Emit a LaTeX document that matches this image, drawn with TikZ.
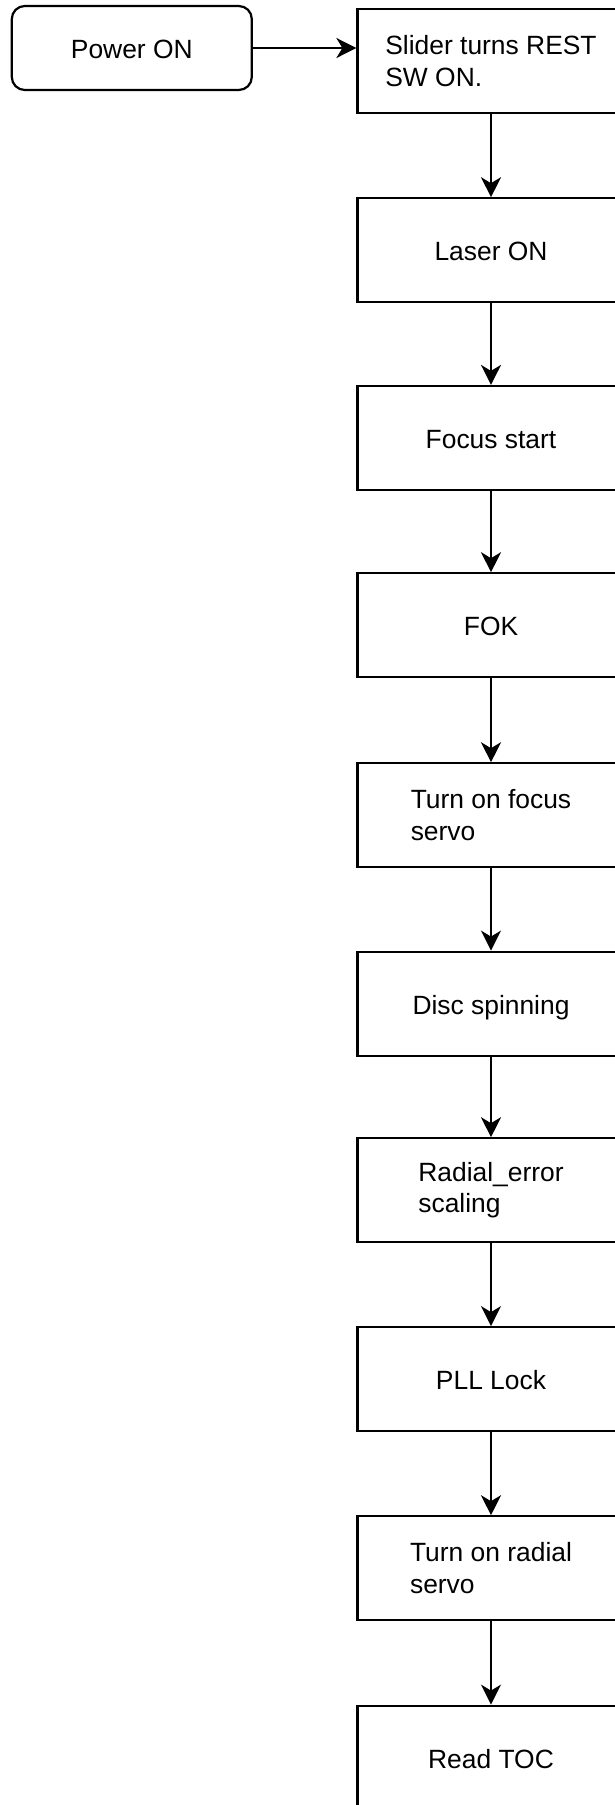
\documentclass[tikz,border=0pt]{standalone}
\usepackage{fontspec}
\setmainfont{Liberation Sans}
\usetikzlibrary{arrows.meta}
\begin{document}
\begin{tikzpicture}[x=1pt,y=-1pt,
  every node/.style={font=\fontsize{26.4}{31.7}\selectfont, inner sep=0pt},
  oneline/.style={text height=21pt, text depth=0pt},
  stepbox/.style={draw, line width=2.2pt, minimum width=267pt, minimum height=104pt, align=left},
  startbox/.style={draw, line width=2.2pt, rounded corners=13pt, minimum width=240pt, minimum height=84pt},
  flow/.style={line width=2.2pt, -{Stealth[length=20pt,width=20pt,inset=6pt]}}]
\useasboundingbox (0,0) rectangle (615,1805);
\clip (0,0) rectangle (615,1805);
\node[startbox, oneline] (p) at (131.8,48) {Power ON};
\node[stepbox] (s1) at (491,61.2) {Slider turns REST\\SW ON.};
\node[stepbox, oneline] (s2) at (491,250.3) {Laser ON};
\node[stepbox, oneline] (s3) at (491,438) {Focus start};
\node[stepbox, oneline] (s4) at (491,625.3) {FOK};
\node[stepbox] (s5) at (491,815.3) {Turn on focus\\servo};
\node[stepbox, oneline] (s6) at (491,1003.7) {Disc spinning};
\node[stepbox] (s7) at (491,1190.3) {Radial\_error\\scaling};
\node[stepbox, oneline] (s8) at (491,1379.2) {PLL Lock};
\node[stepbox] (s9) at (491,1568.3) {Turn on radial\\servo};
\node[stepbox, oneline] (s10) at (491,1757.7) {Read TOC};
\draw[flow] (p.east) -- (p.east -| s1.west);
\draw[flow] (s1) -- (s2);
\draw[flow] (s2) -- (s3);
\draw[flow] (s3) -- (s4);
\draw[flow] (s4) -- (s5);
\draw[flow] (s5) -- (s6);
\draw[flow] (s6) -- (s7);
\draw[flow] (s7) -- (s8);
\draw[flow] (s8) -- (s9);
\draw[flow] (s9) -- (s10);
\end{tikzpicture}
\end{document}
